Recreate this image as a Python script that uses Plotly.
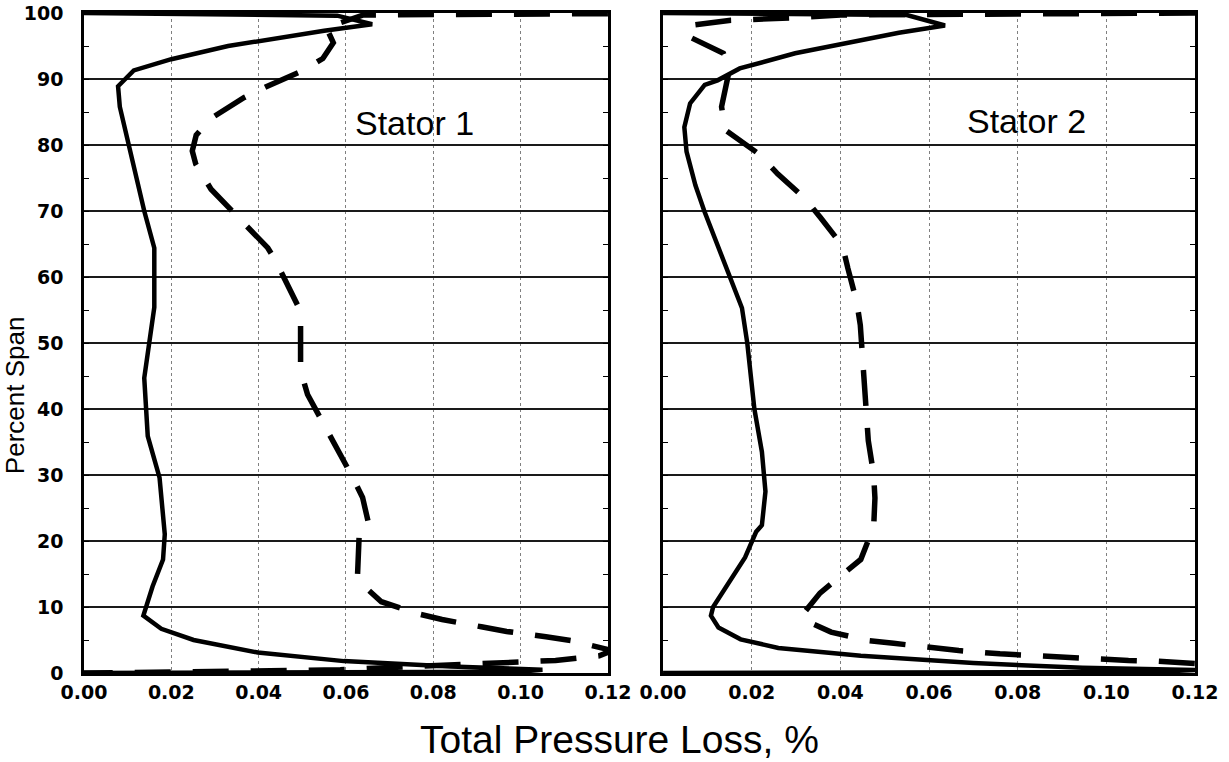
import plotly.graph_objects as go

# Stator 1 profiles (loss vs. percent span)
s1_solid_loss = [0.000, 0.030, 0.058, 0.066, 0.055, 0.033, 0.020, 0.0114, 0.0078, 0.0082,
                 0.0105, 0.0138, 0.0161, 0.0161, 0.0138, 0.0146, 0.0173, 0.0185, 0.0181,
                 0.0157, 0.0136, 0.0177, 0.0251, 0.0398, 0.0595, 0.084, 0.105, 0.100, 0.000]
s1_solid_span = [100.0, 99.85, 99.6, 98.3, 97.3, 95.0, 93.0, 91.3, 88.9, 85.8,
                 79.0, 70.0, 64.4, 55.4, 44.7, 35.9, 29.6, 21.0, 17.2,
                 13.1, 8.7, 6.7, 5.0, 3.1, 1.8, 1.0, 0.5, 0.2, 0.0]

s1_dash_loss = [0.120, 0.064, 0.0555, 0.0571, 0.0547, 0.0502, 0.0416, 0.0367, 0.029, 0.0257,
                0.0248, 0.0256, 0.0291, 0.0346, 0.0386, 0.0421, 0.0437, 0.0465, 0.0496, 0.0496,
                0.0512, 0.0614, 0.0638, 0.0654, 0.063, 0.0626, 0.064, 0.0681, 0.0763, 0.082,
                0.091, 0.0968, 0.1058, 0.1116, 0.121, 0.118, 0.108, 0.0935, 0.0726, 0.0587,
                0.035, 0.000]
s1_dash_span = [99.9, 99.7, 97.8, 95.5, 93.1, 91.3, 88.8, 87.2, 84.0, 81.5,
                79.1, 77.1, 73.3, 69.5, 66.7, 64.4, 62.7, 59.1, 54.8, 45.8,
                42.2, 29.8, 26.6, 22.0, 20.5, 14.1, 13.3, 10.8, 9.0, 8.1,
                7.0, 6.3, 5.5, 4.9, 3.4, 2.6, 1.9, 1.5, 0.9, 0.5,
                0.26, 0.0]

# Stator 2 profiles
s2_solid_loss = [0.000, 0.030, 0.055, 0.0636, 0.0532, 0.0298, 0.0173, 0.0123, 0.0094, 0.0061,
                 0.0048, 0.0053, 0.0073, 0.0093, 0.0138, 0.0150, 0.0178, 0.0190, 0.0206, 0.0223,
                 0.0228, 0.0231, 0.0223, 0.0210, 0.0185, 0.0113, 0.0108, 0.0125, 0.0175, 0.026,
                 0.0446, 0.070, 0.0946, 0.120, 0.110, 0.000]
s2_solid_span = [100.0, 99.85, 99.7, 98.1, 97.0, 93.9, 91.6, 89.8, 89.1, 86.3,
                 82.7, 79.0, 73.9, 70.0, 62.3, 60.0, 55.3, 50.0, 40.0, 33.5,
                 30.0, 27.5, 22.4, 21.4, 17.5, 10.0, 8.7, 6.9, 5.1, 3.8,
                 2.6, 1.5, 0.8, 0.45, 0.15, 0.0]

s2_dash_loss = [0.120, 0.040, 0.0307, 0.0215, 0.0153, 0.0069, 0.0050, 0.0065, 0.0136, 0.0150,
                0.0144, 0.0132, 0.0140, 0.0215, 0.0259, 0.0320, 0.0355, 0.0405, 0.0417, 0.0437,
                0.0445, 0.0451, 0.0453, 0.0459, 0.0463, 0.0475, 0.0478, 0.0475, 0.0470, 0.0446,
                0.0396, 0.0354, 0.0313, 0.0330, 0.0379, 0.0463, 0.052, 0.061, 0.0667, 0.076,
                0.081, 0.090, 0.0958, 0.105, 0.111, 0.120, 0.126]
s2_dash_span = [100.0, 99.7, 99.3, 99.0, 98.9, 98.2, 97.2, 96.2, 93.9, 91.5,
                89.8, 85.8, 82.3, 78.7, 75.6, 71.9, 69.0, 64.7, 61.3, 56.2,
                52.7, 47.4, 44.1, 38.7, 35.2, 30.1, 26.5, 21.9, 21.3, 17.2,
                14.4, 12.1, 8.7, 7.7, 6.2, 4.9, 4.5, 3.7, 3.4, 2.9,
                2.7, 2.3, 2.2, 1.9, 1.8, 1.4, 1.2]

x_ticks = [0.00, 0.02, 0.04, 0.06, 0.08, 0.10, 0.12]
y_ticks = [0, 10, 20, 30, 40, 50, 60, 70, 80, 90, 100]
panel_labels = ["Stator 1", "Stator 2"]

SOLID = dict(color="black", width=4.5)
DASHED = dict(color="black", width=5.5, dash="36px,22px")

fig = go.Figure()
fig.add_trace(go.Scatter(x=s1_solid_loss, y=s1_solid_span, mode="lines", line=SOLID,
                         xaxis="x", yaxis="y", showlegend=False))
fig.add_trace(go.Scatter(x=s1_dash_loss, y=s1_dash_span, mode="lines", line=DASHED,
                         xaxis="x", yaxis="y", showlegend=False))
fig.add_trace(go.Scatter(x=s2_solid_loss, y=s2_solid_span, mode="lines", line=SOLID,
                         xaxis="x2", yaxis="y2", showlegend=False))
fig.add_trace(go.Scatter(x=s2_dash_loss, y=s2_dash_span, mode="lines", line=DASHED,
                         xaxis="x2", yaxis="y2", showlegend=False))

tick_font = dict(family="DejaVu Sans", size=19, color="black", weight="bold")

xaxis_common = dict(
    range=[0, 0.12], tickvals=x_ticks, tickformat=".2f", tickfont=tick_font,
    showgrid=True, gridcolor="#808080", gridwidth=1, griddash="dot",
    showline=True, linecolor="black", linewidth=2.5, mirror=True,
    ticks="", zeroline=False, ticklabelstandoff=0, automargin=False,
)
yaxis_common = dict(
    range=[0, 100], tickvals=y_ticks, tickfont=tick_font,
    showgrid=True, gridcolor="#1a1a1a", gridwidth=1.5,
    showline=True, linecolor="black", linewidth=2.5, mirror="ticks",
    ticks="inside", ticklen=5, tickcolor="black",
    minor=dict(tickvals=[5, 15, 25, 35, 45, 55, 65, 75, 85, 95], ticks="inside",
               ticklen=5, tickcolor="black", showgrid=False),
    zeroline=False, automargin=False,
)

fig.update_layout(
    width=1229, height=762,
    margin=dict(l=84, r=34, t=13, b=89, autoexpand=False),
    paper_bgcolor="white", plot_bgcolor="white",
    xaxis=dict(domain=[0, 0.4716], anchor="y", **xaxis_common),
    xaxis2=dict(domain=[0.5212, 1.0], anchor="y2", **xaxis_common),
    yaxis=dict(domain=[0, 1], anchor="x", ticklabelstandoff=14, **yaxis_common),
    yaxis2=dict(domain=[0, 1], anchor="x2", showticklabels=False, **yaxis_common),
    font=dict(family="Liberation Sans", color="black"),
)

annotations = [
    dict(text=panel_labels[0], x=0.0757, y=83.4, xref="x", yref="y", showarrow=False,
         font=dict(family="Liberation Sans", size=34, color="black")),
    dict(text=panel_labels[1], x=0.0819, y=83.6, xref="x2", yref="y2", showarrow=False,
         font=dict(family="Liberation Sans", size=34, color="black")),
    dict(text="Percent Span", x=-0.0621, y=0.421, xref="paper", yref="paper",
         xanchor="center", yanchor="middle", textangle=-90, showarrow=False,
         font=dict(family="Liberation Sans", size=26, color="black")),
    dict(text="Total Pressure Loss, %", x=0.4824, y=-0.1015, xref="paper", yref="paper",
         xanchor="center", yanchor="middle", showarrow=False,
         font=dict(family="Liberation Sans", size=39, color="black")),
]
fig.update_layout(annotations=annotations)

fig.write_html("out.html")
